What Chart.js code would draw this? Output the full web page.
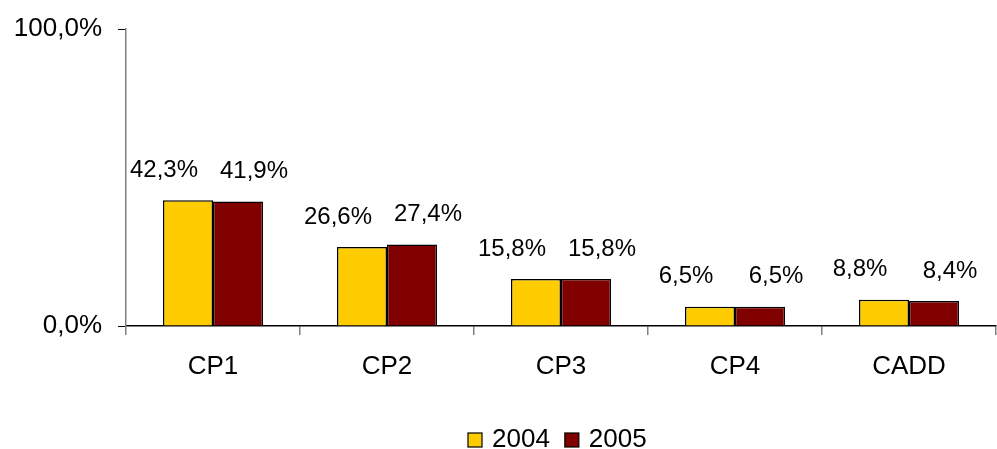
<!DOCTYPE html>
<html>
<head>
<meta charset="utf-8">
<script src="https://cdn.jsdelivr.net/npm/chart.js@4/dist/chart.umd.min.js"></script>
<style>
  html, body { margin: 0; padding: 0; background: #fff; }
  #wrap { width: 997px; height: 449px; }
</style>
</head>
<body>
<div id="wrap"><canvas id="chart" width="997" height="449"></canvas></div>
<script>
const categories = ['CP1', 'CP2', 'CP3', 'CP4', 'CADD'];
const values2004 = [42.3, 26.6, 15.8, 6.5, 8.8];
const values2005 = [41.9, 27.4, 15.8, 6.5, 8.4];
const seriesNames = ['2004', '2005'];
const yTicks = [0, 100];

const fmt = v => v.toFixed(1).replace('.', ',') + '%';
const FONT = 'Liberation Sans, Arial, sans-serif';

// value labels above bars, pushed a bit outward like in the original
const labelPlugin = {
    id: 'barLabels',
    afterDatasetsDraw(chart) {
        const ctx = chart.ctx;
        ctx.save();
        ctx.font = '24px ' + FONT;
        ctx.fillStyle = '#000';
        ctx.textAlign = 'center';
        ctx.textBaseline = 'middle';
        chart.data.datasets.forEach((ds, i) => {
            const meta = chart.getDatasetMeta(i);
            const shift = i === 0 ? -24 : 16;
            meta.data.forEach((bar, j) => {
                ctx.fillText(fmt(ds.data[j]), bar.x + shift, bar.y - 30);
            });
        });
        ctx.restore();
    }
};

// the excel legend sits a bit right of centre, so draw it by hand
const legendPlugin = {
    id: 'xlLegend',
    afterDraw(chart) {
        const ctx = chart.ctx;
        ctx.save();
        ctx.font = '26px ' + FONT;
        ctx.textBaseline = 'middle';
        let x = 468;
        const y = 440;
        chart.data.datasets.forEach(ds => {
            ctx.fillStyle = ds.backgroundColor;
            ctx.fillRect(x, y - 7, 14, 14);
            ctx.strokeStyle = '#000';
            ctx.lineWidth = 1.2;
            ctx.strokeRect(x, y - 7, 14, 14);
            x += 24;
            ctx.fillStyle = '#000';
            ctx.fillText(ds.label, x, y);
            x += ctx.measureText(ds.label).width + 15;
        });
        ctx.restore();
    }
};

const ctx = document.getElementById('chart').getContext('2d');
new Chart(ctx, {
    type: 'bar',
    data: {
        labels: categories,
        datasets: [{
            label: seriesNames[0],
            data: values2004,
            backgroundColor: '#FFCC00',
            borderColor: '#000',
            borderWidth: 1.5,
            borderSkipped: 'bottom',
            barPercentage: 1,
            categoryPercentage: 0.575
        }, {
            label: seriesNames[1],
            data: values2005,
            backgroundColor: '#800000',
            borderColor: '#000',
            borderWidth: 1.5,
            borderSkipped: 'bottom',
            barPercentage: 1,
            categoryPercentage: 0.575
        }]
    },
    options: {
        responsive: false,
        animation: false,
        layout: { padding: { top: 28, right: 1, left: 0, bottom: 43 } },
        plugins: {
            tooltip: { enabled: false },
            legend: { display: false }
        },
        scales: {
            x: {
                offset: true,
                afterFit: s => { s.height = 80; },
                grid: {
                    offset: true,
                    drawOnChartArea: false,
                    tickLength: 9,
                    color: '#808080',
                    lineWidth: 1.5
                },
                border: { color: '#000', width: 1.5 },
                ticks: {
                    font: { family: FONT, size: 26 },
                    color: '#000',
                    padding: 16
                }
            },
            y: {
                min: 0,
                max: 100,
                afterFit: s => { s.width = 126; },
                afterBuildTicks: s => { s.ticks = yTicks.map(v => ({ value: v })); },
                grid: {
                    drawOnChartArea: false,
                    tickLength: 8,
                    color: '#000',
                    lineWidth: 1
                },
                border: { color: '#808080', width: 1.5 },
                ticks: {
                    font: { family: FONT, size: 26, lineHeight: 1 },
                    color: '#000',
                    padding: 16,
                    callback: v => fmt(v)
                }
            }
        }
    },
    plugins: [labelPlugin, legendPlugin]
});
</script>
</body>
</html>
